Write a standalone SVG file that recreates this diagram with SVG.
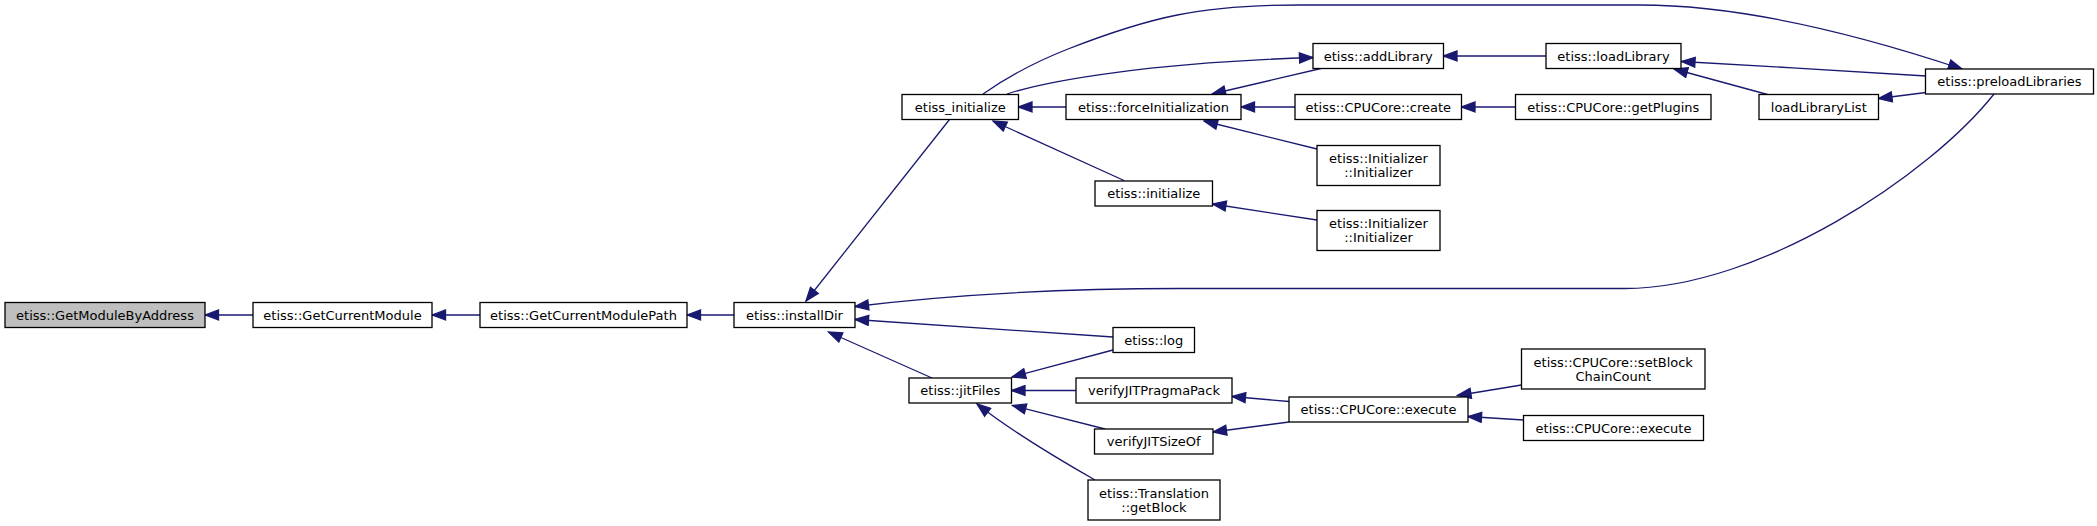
<svg xmlns="http://www.w3.org/2000/svg" width="2097" height="526" viewBox="0 0 2097 526">
<style>
.n rect{fill:#ffffff;stroke:#000000;stroke-width:1.3}
.n.root rect{fill:#bfbfbf}
.n text{font-family:"DejaVu Sans","Liberation Sans",sans-serif;font-size:13px;fill:#000000;text-anchor:middle}
.e path{fill:none;stroke:#191970;stroke-width:1.3;marker-end:url(#ah)}
</style>
<defs>
<marker id="ah" markerUnits="userSpaceOnUse" markerWidth="16" markerHeight="12" refX="14.5" refY="6" orient="auto" viewBox="0 0 16 12">
<path d="M1,1 L14.5,6 L1,11 z" fill="#191970" stroke="#191970" stroke-width="1.3"/>
</marker>
</defs>
<rect width="2097" height="526" fill="#ffffff"/>
<g id="edges" class="e">
<path d="M253,315 L205,315"/>
<path d="M480,315 L432,315"/>
<path d="M734,315 L687,315"/>
<path d="M949.5,119.5 L806,301"/>
<path d="M1066,107 L1018.5,107"/>
<path d="M1124,180.5 L993,121"/>
<path d="M1007,94 C1050,80 1150,63 1313,57.5"/>
<path d="M983,94 C1010,75 1035,62 1068,49 C1150,17 1200,5 1300,5 L1640,5 C1740,5 1860,35 1962,69"/>
<path d="M1994,94 C1930,175 1760,288.5 1625,288.5 L1180,288.5 C1050,288.5 950,295 855,306.5"/>
<path d="M1321,68.5 L1212,94"/>
<path d="M1295,107 L1241,107"/>
<path d="M1317,149 L1204,121"/>
<path d="M1546,56 L1443.5,56"/>
<path d="M1515.5,107 L1461.5,107"/>
<path d="M1926,76 C1850,71 1760,66 1681.5,61.5"/>
<path d="M1767.5,94.5 L1674,69"/>
<path d="M1926,92.5 L1878.5,98.5"/>
<path d="M1317,220 L1212.5,204"/>
<path d="M1113,337 L855,319.5"/>
<path d="M932,378 L828.5,332"/>
<path d="M1113,350 L1012,377"/>
<path d="M1076,390.5 L1011.5,390.5"/>
<path d="M1105,429 L1012.5,405.5"/>
<path d="M1095,480 C1060,460 1010,430 977,404"/>
<path d="M1289,401.5 L1232,396.5"/>
<path d="M1289,422 L1213,432"/>
<path d="M1521.5,385 L1457.5,395.5"/>
<path d="M1523.5,420 L1468,416.5"/>
</g>
<g id="n_GetModuleByAddress" class="n root"><rect x="5" y="302.5" width="200" height="25"/><text x="105" y="319.5">etiss::GetModuleByAddress</text></g>
<g id="n_GetCurrentModule" class="n"><rect x="253" y="302.5" width="179" height="25"/><text x="342.5" y="319.5">etiss::GetCurrentModule</text></g>
<g id="n_GetCurrentModulePath" class="n"><rect x="480" y="302.5" width="207" height="25"/><text x="583.5" y="319.5">etiss::GetCurrentModulePath</text></g>
<g id="n_installDir" class="n"><rect x="734" y="302.5" width="121" height="25"/><text x="794.5" y="319.5">etiss::installDir</text></g>
<g id="n_etiss_initialize" class="n"><rect x="902" y="94.5" width="116.5" height="25"/><text x="960.25" y="111.5">etiss_initialize</text></g>
<g id="n_forceInitialization" class="n"><rect x="1066" y="94.5" width="175" height="25"/><text x="1153.5" y="111.5">etiss::forceInitialization</text></g>
<g id="n_initialize" class="n"><rect x="1095" y="181" width="117.5" height="25"/><text x="1153.75" y="198">etiss::initialize</text></g>
<g id="n_addLibrary" class="n"><rect x="1313" y="43.5" width="130.5" height="25"/><text x="1378.25" y="60.5">etiss::addLibrary</text></g>
<g id="n_loadLibrary" class="n"><rect x="1546" y="43.5" width="135" height="25"/><text x="1613.5" y="60.5">etiss::loadLibrary</text></g>
<g id="n_CPUCore_create" class="n"><rect x="1295" y="94.5" width="166.5" height="25"/><text x="1378.25" y="111.5">etiss::CPUCore::create</text></g>
<g id="n_CPUCore_getPlugins" class="n"><rect x="1515.5" y="94.5" width="195.5" height="25"/><text x="1613.25" y="111.5">etiss::CPUCore::getPlugins</text></g>
<g id="n_Initializer1" class="n"><rect x="1317" y="145.5" width="123" height="40"/><text x="1378.5" y="163">etiss::Initializer</text><text x="1378.5" y="177">::Initializer</text></g>
<g id="n_Initializer2" class="n"><rect x="1317" y="210.5" width="123" height="40"/><text x="1378.5" y="228">etiss::Initializer</text><text x="1378.5" y="242">::Initializer</text></g>
<g id="n_preloadLibraries" class="n"><rect x="1925.5" y="69" width="168" height="25"/><text x="2009.5" y="86">etiss::preloadLibraries</text></g>
<g id="n_loadLibraryList" class="n"><rect x="1759" y="94.5" width="119.5" height="25"/><text x="1818.75" y="111.5">loadLibraryList</text></g>
<g id="n_log" class="n"><rect x="1113" y="327.5" width="81.5" height="25"/><text x="1153.75" y="344.5">etiss::log</text></g>
<g id="n_jitFiles" class="n"><rect x="909" y="378" width="102.5" height="25"/><text x="960.25" y="395">etiss::jitFiles</text></g>
<g id="n_verifyJITPragmaPack" class="n"><rect x="1076" y="378" width="156" height="25"/><text x="1154" y="395">verifyJITPragmaPack</text></g>
<g id="n_verifyJITSizeOf" class="n"><rect x="1094.5" y="429" width="118.5" height="25"/><text x="1153.75" y="446">verifyJITSizeOf</text></g>
<g id="n_Translation_getBlock" class="n"><rect x="1088" y="480" width="132" height="40"/><text x="1154" y="497.5">etiss::Translation</text><text x="1154" y="511.5">::getBlock</text></g>
<g id="n_CPUCore_execute" class="n"><rect x="1289" y="397" width="179" height="25"/><text x="1378.5" y="414">etiss::CPUCore::execute</text></g>
<g id="n_CPUCore_setBlockChainCount" class="n"><rect x="1521.5" y="349" width="183.5" height="40"/><text x="1613.25" y="366.5">etiss::CPUCore::setBlock</text><text x="1613.25" y="380.5">ChainCount</text></g>
<g id="n_CPUCore_execute2" class="n"><rect x="1523.5" y="415.5" width="180" height="25"/><text x="1613.5" y="432.5">etiss::CPUCore::execute</text></g>
</svg>
